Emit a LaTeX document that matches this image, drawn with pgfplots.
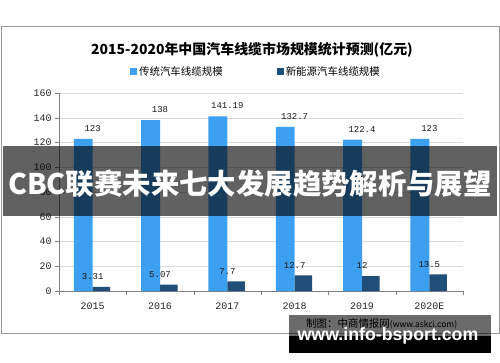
\documentclass[border=0pt]{standalone}
\usepackage{pgfplots}
\pgfplotsset{compat=1.18}
\usepackage{fontspec}
\setmainfont{Liberation Sans}
\newfontfamily\cjk{Noto Sans CJK SC}
\newfontfamily\mono{Liberation Mono}
\definecolor{lblue}{RGB}{61,159,240}
\definecolor{dblue}{RGB}{31,78,121}
\begin{document}
\begin{tikzpicture}[x=1bp,y=1bp]
\useasboundingbox (0,0) rectangle (500,362);
\fill[white] (0,0) rectangle (500,362);
\draw[black!40, line width=0.8bp] (1,29) rectangle (499,336);
\node[font=\cjk\bfseries\fontsize{14}{16}\selectfont] at (252,312) {2015-2020年中国汽车线缆市场规模统计预测(亿元)};
\begin{axis}[at={(59bp,71bp)}, anchor=south west, scale only axis, width=404bp, height=198bp,
  xmin=-0.5, xmax=5.5, ymin=0, ymax=160,
  axis x line=bottom, axis y line=left, axis line style={black!50, -},
  ytick={0,20,...,160}, ymajorgrids, grid style={black!15},
  xtick={-0.5,0.5,...,5.5}, x tick label as interval,
  xticklabels={2015,2016,2017,2018,2019,2020E},
  tick align=outside, major tick length=4bp, tick style={black!50},
  /pgf/number format/assume math mode=true,
  ticklabel style={font=\mono\fontsize{10}{12}\selectfont, text=black!85},
  xticklabel style={yshift=-4bp},
  legend style={at={(0.4876,1)}, anchor=south, yshift=12bp, draw=none, fill=none,
    legend columns=2, font=\cjk\fontsize{10.5}{12}\selectfont,
    /tikz/every even column/.append style={column sep=52bp}},
  legend image code/.code={\fill[#1] (0bp,-3.5bp) rectangle (7bp,3.5bp);},
  nodes near coords, point meta=explicit symbolic,
  every node near coord/.append style={font=\mono\fontsize{9}{10}\selectfont, anchor=south, inner sep=0pt, yshift=7bp, text=black!90},
]
\addplot[ybar, bar width=0.28, bar shift=-0.14, fill=lblue, draw=none] table[meta=l] {
x y l
0 123 123
1 138 138
2 141.19 141.19
3 132.7 132.7
4 122.4 122.4
5 123 123
};
\addlegendentry{传统汽车线缆规模}
\addplot[ybar, bar width=0.26, bar shift=0.13, fill=dblue, draw=none] table[meta=l] {
x y l
0 3.31 3.31
1 5.07 5.07
2 7.7 7.7
3 12.7 12.7
4 12 12
5 13.5 13.5
};
\addlegendentry{新能源汽车线缆规模}
\end{axis}
\fill[black, opacity=0.62] (3,146) rectangle (497,216);
\node[white, font=\cjk\bfseries\fontsize{28.5}{30}\selectfont] at (250,178) {CBC联赛未来七大发展趋势解析与展望};
\fill[black, opacity=0.58] (289,26) rectangle (491,47);
\fill[black] (289,9) rectangle (491,26);
\node[anchor=west, inner sep=0pt] at (306,38) {\cjk\fontsize{10.5}{12}\selectfont 制图：中商情报网\fontsize{8.5}{10}\selectfont(www.askci.com)};
\node[white, font=\bfseries\fontsize{17.8}{20}\selectfont] at (388,26) {www.info-bsport.com};
\end{tikzpicture}
\end{document}
